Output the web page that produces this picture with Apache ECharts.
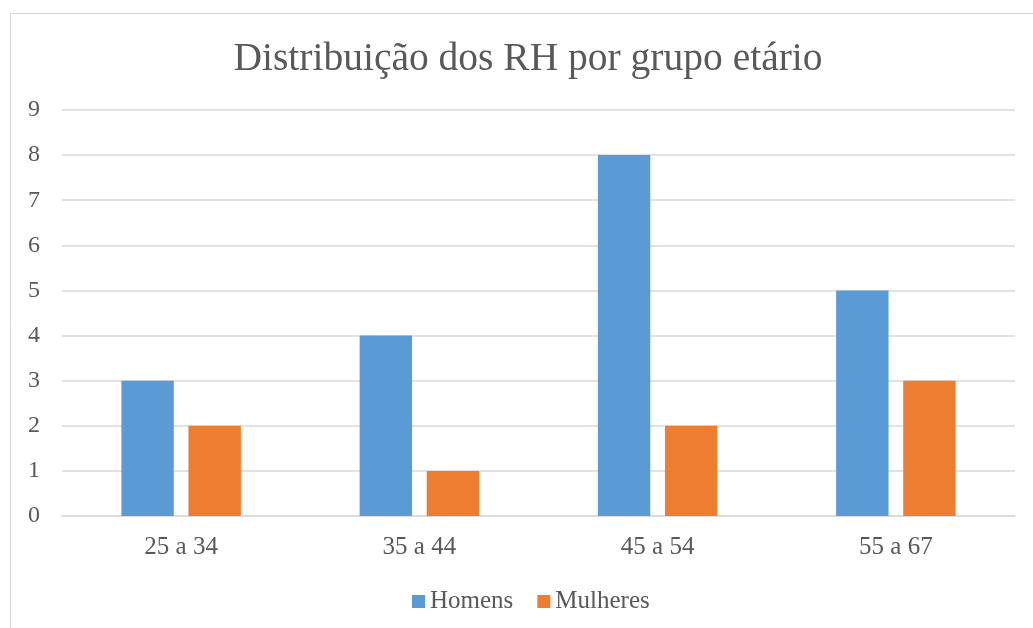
<!DOCTYPE html>
<html>
<head>
<meta charset="utf-8">
<script src="https://cdn.jsdelivr.net/npm/echarts@6/dist/echarts.min.js"></script>
<style>
  html, body { margin: 0; padding: 0; background: #fff; }
  #chart { width: 1033px; height: 628px; }
</style>
</head>
<body>
<div id="chart"></div>
<script>
// Distribuição dos RH por grupo etário
const categories = ['25 a 34', '35 a 44', '45 a 54', '55 a 67'];
const homens = [3, 4, 8, 5];
const mulheres = [2, 1, 2, 3];

const serif = '"Liberation Serif", "DejaVu Serif", serif';
const txt = '#595959';

const chart = echarts.init(document.getElementById('chart'));
chart.setOption({
    animation: false,
    textStyle: { fontFamily: serif },
    graphic: [{
        type: 'rect',
        shape: { x: 10.5, y: 13.5, width: 1100, height: 700 },
        style: { fill: 'none', stroke: '#d9d9d9', lineWidth: 1 },
        silent: true
    }],
    title: {
        text: 'Distribuição dos RH por grupo etário',
        left: 523,
        textAlign: 'center',
        top: 35,
        textStyle: { fontFamily: serif, fontSize: 39.5, fontWeight: 'normal', color: txt }
    },
    legend: {
        data: ['Homens', 'Mulheres'],
        bottom: 9,
        left: 407,
        itemWidth: 13,
        itemHeight: 13,
        itemGap: 24,
        icon: 'rect',
        textStyle: { fontFamily: serif, fontSize: 25, color: txt }
    },
    grid: { left: 62, right: 18, top: 110, bottom: 112 },
    xAxis: {
        type: 'category',
        data: categories,
        axisLine: { lineStyle: { color: '#d9d9d9', width: 1.5 } },
        axisTick: { show: false },
        axisLabel: { fontFamily: serif, fontSize: 25, color: txt, margin: 19 }
    },
    yAxis: {
        type: 'value',
        min: 0,
        max: 9,
        interval: 1,
        axisLine: { show: false },
        axisTick: { show: false },
        splitLine: { lineStyle: { color: '#d9d9d9', width: 1.5 } },
        axisLabel: { fontFamily: serif, fontSize: 24, color: txt, margin: 22 }
    },
    series: [
        {
            name: 'Homens',
            type: 'bar',
            data: homens,
            barWidth: '22%',
            barGap: '28%',
            itemStyle: { color: '#5b9bd5' }
        },
        {
            name: 'Mulheres',
            type: 'bar',
            data: mulheres,
            barWidth: '22%',
            itemStyle: { color: '#ed7d31' }
        }
    ]
});
window.addEventListener('resize', () => chart.resize());
</script>
</body>
</html>
